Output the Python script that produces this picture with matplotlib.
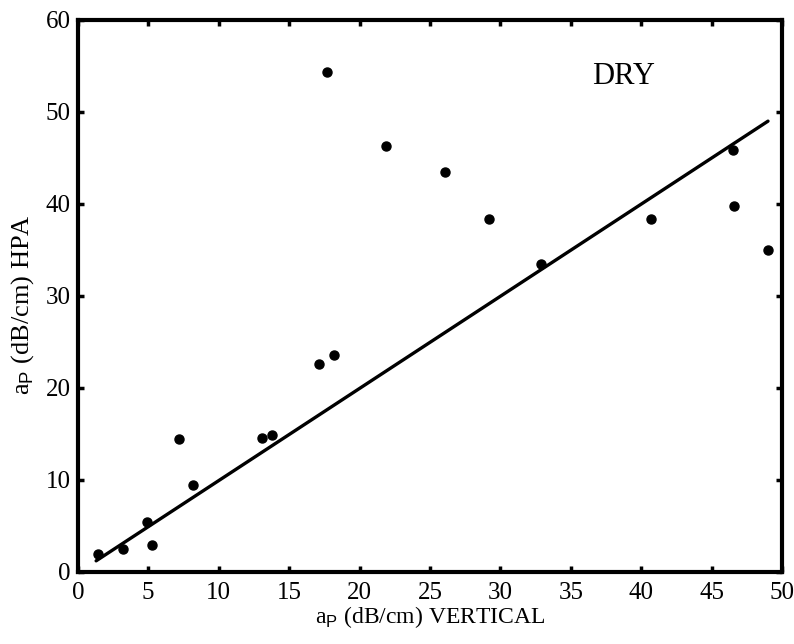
import matplotlib
matplotlib.use("Agg")
import matplotlib.pyplot as plt

# measured attenuation (dB/cm): vertical vs HPA, dry sample
vertical = [1.4, 3.2, 4.9, 5.3, 7.2, 8.2, 13.1, 13.8, 17.1, 18.2,
            17.7, 21.9, 26.1, 29.2, 32.9, 40.7, 46.5, 46.6, 49.0]
hpa = [1.9, 2.5, 5.4, 2.9, 14.4, 9.4, 14.6, 14.9, 22.6, 23.6,
       54.3, 46.3, 43.5, 38.4, 33.5, 38.4, 45.9, 39.8, 35.0]

# fitted line end points
fit_x = [1.3, 49.0]
fit_y = [1.2, 49.0]

plt.rcParams['font.family'] = ['Liberation Serif', 'DejaVu Serif']
plt.rcParams['mathtext.fontset'] = 'custom'
plt.rcParams['mathtext.rm'] = 'Liberation Sans'

fig = plt.figure(figsize=(7.94, 6.44), dpi=100)
ax = fig.add_axes([0.098, 0.112, 0.887, 0.857])

ax.plot(fit_x, fit_y, color='black', linewidth=2.4, solid_capstyle='round')
ax.plot(vertical, hpa, 'o', color='black', markersize=6.5)

ax.set_xlim(0, 50)
ax.set_ylim(0, 60)
ax.set_xticks(range(0, 51, 5))
ax.set_yticks(range(0, 61, 10))
ax.tick_params(direction='in', length=4, width=2.5, top=True, right=True,
               labelsize=18)
ax.tick_params(axis='y', pad=5)
ax.tick_params(axis='x', pad=7)
for s in ax.spines.values():
    s.set_linewidth(3)

ax.set_xlabel(r'a$_{\rm P}$ (dB/cm) VERTICAL', fontsize=17, labelpad=0)
ax.set_ylabel(r'a$_{\rm P}$ (dB/cm) HPA', fontsize=19)
ax.yaxis.set_label_coords(-0.06, 0.485)

ax.text(36.5, 53.8, 'DRY', fontsize=22, ha='left', va='center')

fig.savefig('out.png', dpi=100)
